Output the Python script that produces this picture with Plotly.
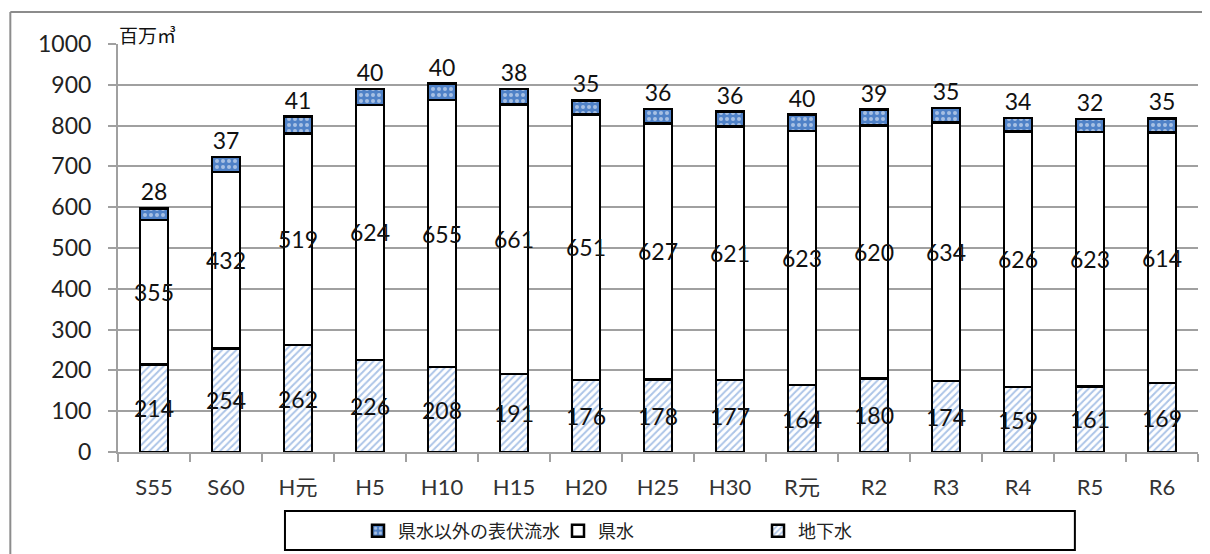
import plotly.graph_objects as go

categories = ["S55", "S60", "H元", "H5", "H10", "H15", "H20", "H25", "H30", "R元", "R2", "R3", "R4", "R5", "R6"]
groundwater = [214, 254, 262, 226, 208, 191, 176, 178, 177, 164, 180, 174, 159, 161, 169]
prefwater = [355, 432, 519, 624, 655, 661, 651, 627, 621, 623, 620, 634, 626, 623, 614]
surfacewater = [28, 37, 41, 40, 40, 38, 35, 36, 36, 40, 39, 35, 34, 32, 35]
y_ticks = [0, 100, 200, 300, 400, 500, 600, 700, 800, 900, 1000]

FONT = "Lato, Noto Sans CJK JP, sans-serif"
LBL = dict(family=FONT, size=23, color="#111")

fig = go.Figure()
fig.add_trace(go.Bar(
    x=categories, y=groundwater, name="地下水",
    marker=dict(color="white", line=dict(color="black", width=2.5),
                pattern=dict(shape="/", fgcolor="#5a8ad0", bgcolor="white", size=5, solidity=0.4)),
    text=groundwater, textposition="inside", insidetextanchor="middle",
    textangle=0, constraintext="none", textfont=LBL,
))
fig.add_trace(go.Bar(
    x=categories, y=prefwater, name="県水",
    marker=dict(color="white", line=dict(color="black", width=2.5)),
    text=prefwater, textposition="inside", insidetextanchor="middle",
    textangle=0, constraintext="none", textfont=LBL,
))
fig.add_trace(go.Bar(
    x=categories, y=surfacewater, name="県水以外の表伏流水",
    marker=dict(color="#4f81c7", line=dict(color="black", width=2.5),
                pattern=dict(shape=".", fgcolor="white", bgcolor="#4f81c7", size=6, solidity=0.35)),
    text=surfacewater, textposition="outside",
    textangle=0, constraintext="none", textfont=LBL, cliponaxis=False,
))

fig.update_layout(
    barmode="stack", bargap=0.61,
    width=1210, height=554,
    margin=dict(l=110, r=20, t=36, b=110, autoexpand=False),
    paper_bgcolor="white", plot_bgcolor="white",
    font=dict(family=FONT, color="#222"),
    showlegend=True,
    legend=dict(orientation="h", traceorder="reversed", x=0.50, xanchor="center",
                yref="container", y=0.056, yanchor="middle", entrywidth=155, entrywidthmode="pixels",
                itemwidth=30,
                font=dict(family=FONT, size=18, color="#222"), bgcolor="rgba(0,0,0,0)"),
    xaxis=dict(showline=True, linecolor="#a0a0a0", linewidth=2, ticks="outside", automargin=False,
               tickson="boundaries", ticklen=8, tickcolor="#a0a0a0", tickwidth=2,
               tickfont=dict(family=FONT, size=22, color="#333"), ticklabelstandoff=15),
    yaxis=dict(range=[0, 1000], tickvals=y_ticks, showline=True, linecolor="#a0a0a0", linewidth=2,
               ticks="outside", ticklen=8, tickcolor="#a0a0a0", tickwidth=2, automargin=False,
               showgrid=True, gridcolor="#a0a0a0", gridwidth=2, zeroline=False,
               tickfont=dict(family=FONT, size=23, color="#222"), ticklabelstandoff=12),
    shapes=[
        dict(type="rect", xref="paper", yref="paper", x0=0.1546, x1=0.886, y0=-0.240, y1=-0.1446,
             line=dict(color="black", width=2), fillcolor="rgba(0,0,0,0)"),
        dict(type="line", xref="paper", yref="paper", x0=-0.0997, x1=-0.0997, y0=-0.3, y1=1.0784,
             line=dict(color="#8c8c8c", width=2)),
        dict(type="line", xref="paper", yref="paper", x0=-0.0997, x1=1.03, y0=1.0784, y1=1.0784,
             line=dict(color="#8c8c8c", width=2)),
    ],
    annotations=[
        dict(text="百万㎥", xref="paper", yref="paper", x=-0.001, y=1.0, xanchor="left", yanchor="bottom",
             showarrow=False, font=dict(family=FONT, size=19, color="#111"), yshift=-5),
    ],
)

fig.write_html("out.html")
